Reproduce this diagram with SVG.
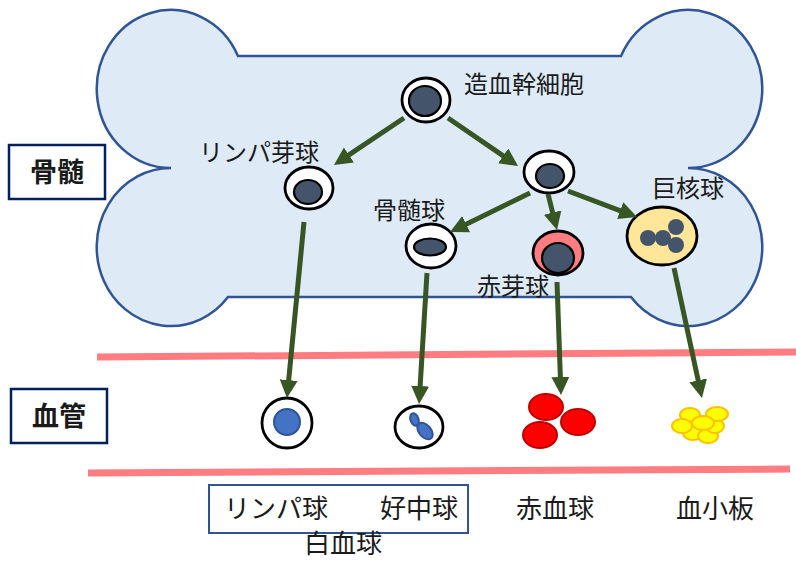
<svg xmlns="http://www.w3.org/2000/svg" width="796" height="561" viewBox="0 0 796 561">
  <style>
    .lbl { font-family: "Noto Sans CJK JP", "Noto Sans", sans-serif; fill: #1a1a1a; }
    .s24 { font-size: 24px; }
    .s26 { font-size: 26px; }
    .title { font-size: 27px; font-weight: bold; text-anchor: middle; }
    .box { fill: #ffffff; stroke: #002060; stroke-width: 2.5; }
    .cell { fill: #ffffff; stroke: #000000; stroke-width: 2.8; }
    .nuc { fill: #44546A; stroke: #000000; stroke-width: 2.2; }
    .dot { fill: #44546A; }
    .arrow { stroke: #375623; stroke-width: 5; fill: none; marker-end: url(#head); }
    .vessel { stroke: #FF7C80; stroke-width: 7; }
    .rbc { fill: #FF0000; stroke: #C00000; stroke-width: 2; }
    .plt { fill: #FFFF00; stroke: #FFC000; stroke-width: 2; }
    .blue { fill: #4472C4; stroke: #2F5597; stroke-width: 2; }
  </style>
  <defs>
    <marker id="head" markerUnits="userSpaceOnUse" markerWidth="20" markerHeight="20" refX="4" refY="9" orient="auto">
      <path d="M0,0 L18,9 L0,18 z" fill="#375623"/>
    </marker>
  </defs>

  <!-- bone marrow outline -->
  <path id="bone" d="M238,56 L621,56 A74,79 0 1 1 688,168 A74,79 0 1 1 631,297 L228,297 A74,79 0 1 1 171,168 A74,79 0 1 1 238,56 Z" fill="#DEEBF7" stroke="#2F5597" stroke-width="2.5"/>

  <!-- blood vessel walls -->
  <line class="vessel" x1="97" y1="357" x2="796" y2="352"/>
  <line class="vessel" x1="88" y1="473" x2="790" y2="469"/>

  <!-- section labels -->
  <g id="label-marrow">
    <rect class="box" x="9" y="145" width="96" height="54"/>
    <text class="lbl title" x="57" y="182">骨髄</text>
  </g>
  <g id="label-vessel">
    <rect class="box" x="11" y="389" width="96" height="54"/>
    <text class="lbl title" x="59" y="426">血管</text>
  </g>

  <!-- marrow cells -->
  <g id="hsc">
    <ellipse class="cell" cx="426" cy="100" rx="24" ry="22"/>
    <ellipse class="nuc" cx="425" cy="101" rx="16" ry="15"/>
    <text class="lbl s24" x="464" y="93">造血幹細胞</text>
  </g>
  <g id="lymphoid-progenitor">
    <ellipse class="cell" cx="309" cy="188" rx="24" ry="21"/>
    <ellipse class="nuc" cx="308" cy="192" rx="14" ry="12"/>
    <text class="lbl s24" x="199" y="161">リンパ芽球</text>
  </g>
  <g id="myeloid-progenitor">
    <ellipse class="cell" cx="549" cy="172" rx="25" ry="21"/>
    <ellipse class="nuc" cx="550" cy="176" rx="14" ry="12"/>
  </g>
  <g id="myelocyte">
    <ellipse class="cell" cx="431" cy="246" rx="25" ry="22"/>
    <ellipse class="nuc" cx="430" cy="247" rx="16" ry="8.5"/>
    <text class="lbl s24" x="373" y="219">骨髄球</text>
  </g>
  <g id="erythroblast">
    <ellipse class="cell" cx="558" cy="253" rx="25" ry="22" style="fill:#FF7C80"/>
    <ellipse class="nuc" cx="558" cy="258" rx="16" ry="15"/>
    <text class="lbl s24" x="477" y="295">赤芽球</text>
  </g>
  <g id="megakaryocyte">
    <ellipse class="cell" cx="662" cy="236" rx="35" ry="29" style="fill:#FFE699"/>
    <circle class="dot" cx="648" cy="238" r="8"/>
    <circle class="dot" cx="663" cy="238" r="8"/>
    <circle class="dot" cx="676" cy="227" r="8"/>
    <circle class="dot" cx="676" cy="245" r="8"/>
    <text class="lbl s24" x="652" y="197">巨核球</text>
  </g>

  <!-- blood cells -->
  <g id="lymphocyte">
    <circle class="cell" cx="287" cy="423" r="25"/>
    <circle class="blue" cx="287" cy="422" r="13"/>
  </g>
  <g id="neutrophil">
    <ellipse class="cell" cx="419" cy="427" rx="24" ry="21"/>
    <ellipse class="blue" cx="414.5" cy="419.5" rx="4" ry="6.5" transform="rotate(-20 414.5 419.5)"/>
    <ellipse class="blue" cx="425" cy="431" rx="6" ry="9.5" transform="rotate(-40 425 431)"/>
  </g>
  <g id="erythrocytes">
    <ellipse class="rbc" cx="546" cy="407" rx="17" ry="13"/>
    <ellipse class="rbc" cx="578" cy="422" rx="17" ry="13"/>
    <ellipse class="rbc" cx="540" cy="435" rx="17" ry="13"/>
  </g>
  <g id="platelets">
    <ellipse class="plt" cx="693" cy="433" rx="10" ry="7"/>
    <ellipse class="plt" cx="708" cy="436" rx="10" ry="7"/>
    <ellipse class="plt" cx="715" cy="426" rx="9" ry="7"/>
    <ellipse class="plt" cx="690" cy="415" rx="10" ry="7"/>
    <ellipse class="plt" cx="717" cy="414" rx="11" ry="7"/>
    <ellipse class="plt" cx="682" cy="426" rx="10" ry="7"/>
    <ellipse class="plt" cx="703" cy="423" rx="11" ry="7"/>
  </g>

  <!-- white blood cell grouping and bottom labels -->
  <g id="wbc-group">
    <rect x="209" y="485" width="259" height="48" fill="#ffffff" stroke="#2F5597" stroke-width="2"/>
    <text class="lbl s26" x="224" y="518">リンパ球</text>
    <text class="lbl s26" x="380" y="518">好中球</text>
    <text class="lbl s26" x="304" y="553">白血球</text>
  </g>
  <text class="lbl s26" x="516" y="518">赤血球</text>
  <text class="lbl s26" x="676" y="518">血小板</text>

  <!-- differentiation arrows -->
  <g id="connectors">
    <line class="arrow" x1="404" y1="118" x2="345.6" y2="157.2"/>
    <line class="arrow" x1="448" y1="118" x2="506.5" y2="158.1"/>
    <line class="arrow" x1="530" y1="193" x2="462.6" y2="225.9"/>
    <line class="arrow" x1="548" y1="194" x2="553.6" y2="216.4"/>
    <line class="arrow" x1="568" y1="191" x2="623.9" y2="212.1"/>
    <line class="arrow" x1="304" y1="222" x2="288.3" y2="384.1"/>
    <line class="arrow" x1="427" y1="273" x2="419.9" y2="390"/>
    <line class="arrow" x1="557" y1="282" x2="560.5" y2="381"/>
    <line class="arrow" x1="674" y1="268" x2="699" y2="384.3"/>
  </g>
</svg>
